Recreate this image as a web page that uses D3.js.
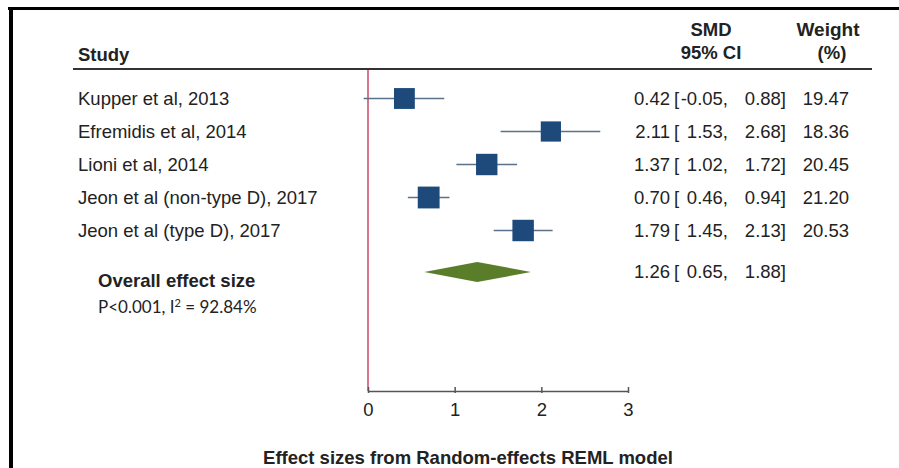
<!DOCTYPE html>
<html>
<head>
<meta charset="utf-8">
<script src="https://cdn.jsdelivr.net/npm/d3@7"></script>
<style>
  html, body { margin: 0; padding: 0; background: #fff; }
  svg { display: block; }
</style>
</head>
<body>
<script>
const studies = ["Kupper et al, 2013", "Efremidis et al, 2014", "Lioni et al, 2014",
  "Jeon et al (non-type D), 2017", "Jeon et al (type D), 2017"];
const smd = [0.42, 2.11, 1.37, 0.70, 1.79];
const lower = [-0.05, 1.53, 1.02, 0.46, 1.45];
const upper = [0.88, 2.68, 1.72, 0.94, 2.13];
const weights = [19.47, 18.36, 20.45, 21.20, 20.53];
const overall = {est: 1.26, lo: 0.65, hi: 1.88};
const xTicks = [0, 1, 2, 3];

const width = 899, height = 468;
const font = "'Liberation Sans', Arial, sans-serif";
const textColor = "#222";
const fs = 18.5;

const svg = d3.select("body").append("svg")
    .attr("width", width)
    .attr("height", height)
    .style("font-family", font);

// black frame (top + left)
svg.append("rect").attr("x", 8).attr("y", 7).attr("width", width - 8).attr("height", 3).attr("fill", "#000");
svg.append("rect").attr("x", 9).attr("y", 7).attr("width", 4).attr("height", height - 7).attr("fill", "#000");

const x = d3.scaleLinear().domain([0, 3]).range([368, 628]);
const y = d3.scaleBand().domain(studies).range([82, 247]);
const size = d3.scaleLinear().domain([18, 21.5]).range([20, 22]);
const rowY = d => y(d) + y.bandwidth() / 2;
const overallY = 272;
const axisY = 391;
const f2 = v => v.toFixed(2);

// headers
const header = svg.append("g").attr("fill", textColor).attr("font-weight", "bold").attr("font-size", fs);
header.append("text").attr("x", 78).attr("y", 61).text("Study");
header.append("text").attr("x", 711).attr("y", 36).attr("text-anchor", "middle").text("SMD");
header.append("text").attr("x", 711).attr("y", 59).attr("text-anchor", "middle").text("95% CI");
header.append("text").attr("x", 828).attr("y", 36).attr("text-anchor", "middle").attr("font-size", 19).text("Weight");
header.append("text").attr("x", 832).attr("y", 59).attr("text-anchor", "middle").text("(%)");

svg.append("line")
    .attr("x1", 73).attr("x2", 872)
    .attr("y1", 69).attr("y2", 69)
    .attr("stroke", "#333").attr("stroke-width", 2);

// null line
svg.append("line")
    .attr("x1", x(0)).attr("x2", x(0))
    .attr("y1", 70).attr("y2", axisY)
    .attr("stroke", "#c84a6a").attr("stroke-width", 1.5);

// axis
const axis = svg.append("g")
    .attr("transform", `translate(0,${axisY})`)
    .call(d3.axisBottom(x).tickValues(xTicks).tickFormat(d3.format("d")).tickSize(5).tickSizeOuter(0));
axis.select(".domain").attr("stroke", "#555").attr("stroke-width", 1.5);
axis.selectAll(".tick line").attr("stroke", "#555").attr("stroke-width", 1.5).attr("y1", -4).attr("y2", 2);
axis.selectAll(".tick text")
    .attr("y", 12)
    .attr("font-size", 18.5)
    .attr("font-family", font)
    .attr("fill", textColor);

svg.append("text")
    .attr("x", 468).attr("y", 464)
    .attr("text-anchor", "middle")
    .attr("font-weight", "bold").attr("font-size", fs)
    .attr("fill", textColor)
    .text("Effect sizes from Random-effects REML model");

// study rows
const rows = svg.append("g").selectAll("g")
  .data(studies)
  .join("g")
    .attr("transform", d => `translate(0,${rowY(d)})`);

rows.append("text")
    .attr("x", 78).attr("dy", "0.35em")
    .attr("font-size", fs).attr("fill", textColor)
    .text(d => d);

rows.append("line")
    .attr("x1", (d, i) => x(lower[i])).attr("x2", (d, i) => x(upper[i]))
    .attr("stroke", "#5b7189").attr("stroke-width", 1.6);

rows.append("rect")
    .attr("x", (d, i) => x(smd[i]) - size(weights[i]) / 2)
    .attr("y", (d, i) => -size(weights[i]) / 2)
    .attr("width", (d, i) => size(weights[i]))
    .attr("height", (d, i) => size(weights[i]))
    .attr("fill", "#1d4a7a");

function ciText(g, est, lo, hi) {
  g.attr("font-size", fs).attr("fill", textColor);
  g.append("text").attr("x", 670).attr("dy", "0.35em").attr("text-anchor", "end").text(f2(est));
  g.append("text").attr("x", 674).attr("dy", "0.35em").text("[");
  g.append("text").attr("x", 728).attr("dy", "0.35em").attr("text-anchor", "end").text(f2(lo) + ",");
  g.append("text").attr("x", 786).attr("dy", "0.35em").attr("text-anchor", "end").text(f2(hi) + "]");
}

rows.each(function(d, i) {
  const g = d3.select(this).append("g");
  ciText(g, smd[i], lower[i], upper[i]);
  d3.select(this).append("text")
      .attr("x", 849).attr("dy", "0.35em").attr("text-anchor", "end")
      .attr("font-size", fs).attr("fill", textColor)
      .text(f2(weights[i]));
});

// overall
const ov = svg.append("g").attr("transform", `translate(0,${overallY})`);
ov.append("path")
    .attr("d", `M${x(overall.lo)},0L${x(overall.est)},-10L${x(overall.hi)},0L${x(overall.est)},10Z`)
    .attr("fill", "#5a7d2a");
ciText(ov.append("g"), overall.est, overall.lo, overall.hi);

svg.append("text")
    .attr("x", 98).attr("y", 287)
    .attr("font-weight", "bold").attr("font-size", fs).attr("fill", textColor)
    .text("Overall effect size");

const pText = svg.append("text")
    .attr("x", 98).attr("y", 313)
    .attr("font-family", "Lato, 'Open Sans', sans-serif")
    .attr("font-size", 17).attr("fill", textColor);
pText.append("tspan").text("P<0.001, I");
pText.append("tspan").attr("dy", -6).attr("font-size", 11).text("2");
pText.append("tspan").attr("dy", 6).text(" = 92.84%");
</script>
</body>
</html>
